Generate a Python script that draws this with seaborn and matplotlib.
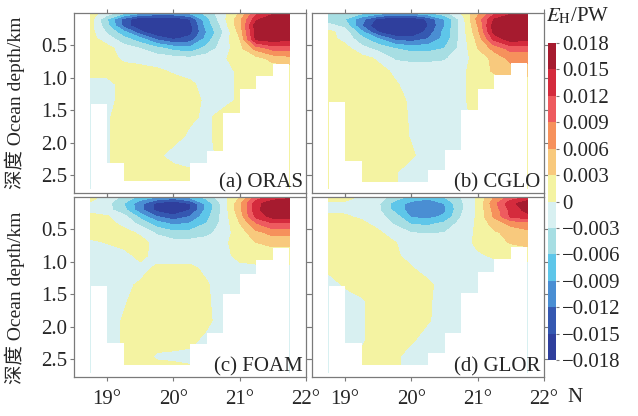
import numpy as np
import matplotlib
matplotlib.use("Agg")
import matplotlib.pyplot as plt
import seaborn as sns
from matplotlib.colors import ListedColormap, BoundaryNorm
from matplotlib.cm import ScalarMappable

sns.set_theme(style="ticks")
plt.rcParams["font.family"] = ["Liberation Serif", "Noto Sans CJK SC"]
plt.rcParams["mathtext.fontset"] = "stix"

# ---------------- data ----------------
lat = [18.75, 19.0, 19.25, 19.5, 19.75, 20.0, 20.25, 20.5, 20.75, 21.0, 21.25, 21.5, 21.75]
depth = [0.0, 0.1, 0.2, 0.3, 0.4, 0.55, 0.7, 0.9, 1.1, 1.35, 1.6, 1.9, 2.2, 2.45, 2.7]
cell_edges = [18.75, 19.0, 19.25, 19.5, 19.75, 20.0, 20.25, 20.5, 20.75, 21.0, 21.25, 21.5, 21.75]

# E_H in 1e-3 PW (rows = depth, columns = latitude)
eh_oras = [
    [1, -1, -5, -8, -9, -9, -8, -5, -1, 3, 11, 14, 14],
    [1, -6, -13, -18, -20, -19, -15, -7, -1, 5, 14, 19, 19],
    [1, -5, -13, -19, -21, -20, -16, -8, -2, 5, 17, 21, 20],
    [1, -3.5, -8, -14, -19, -19, -16, -9, -3, 4, 16, 20, 19],
    [1, -1.5, -5, -8, -13, -15.5, -14, -8, -2, 3, 16, 17, 16],
    [1, 1, -1.5, -3, -5, -7, -8, -5, -1.5, 2, 7, 10, 10],
    [1, 1, -0.5, -1, -1.5, -2, -2.5, -1.5, -0.3, 1, 2, 4, 5],
    [1, 1, 1, 1, 0.5, -0.3, -1, -1, -1, 0.5, 1, 1, 1],
    [-1, -1, 1, 1, 1, 1, 0.5, -1, -1, 0.5, 1, 1, 1],
    [-1, -1, 1, 1, 1, 1, 1, -0.5, -1, 0.5, 1, 1, 1],
    [-1, -0.3, 1, 1, 1, 1, 0.5, -0.5, 1, 1, 1, 1, 1],
    [-1, -0.3, 1, 1, 1, 1, -0.5, -0.5, 1, 1, 1, 1, 1],
    [-1, -0.3, 1, 1, 0.5, -1, -1, -1, 1, 1, 1, 1, 1],
    [-1, -0.3, 1, 1, 1, 1, 0.3, -1, 1, 1, 1, 1, 1],
    [-1, -0.3, 1, 1, 1, 1, 0.3, -1, 1, 1, 1, 1, 1],
]
eh_cglo = [
    [-3, -4, -5, -7, -8, -8, -6, -4, 0, 5, 11, 14, 14],
    [-5, -6, -11, -16, -19, -18, -14.5, -9, -2, 7, 15, 19, 19],
    [-2, -4, -12, -18, -21, -20, -15, -9, -2, 6, 17, 21, 20],
    [1, -1.5, -8, -15, -19, -18, -14, -8, -2, 5, 16, 20, 19],
    [1, -1, -5, -9, -13, -14, -12, -8, -2, 4, 13, 17, 16],
    [1, 1, -2, -4, -6, -7, -7, -6, -2, 3, 7, 10, 10],
    [1, 1, 1, -0.5, -3.5, -4, -4, -3.5, -1, 1, 4, 7, 7],
    [1, 1, 1, 1, -0.5, -1, -1, -1, -0.5, 1, 3.5, 4.5, 4.5],
    [1, 1, 1, 1, 0.3, -1, -1, -1, -0.5, 1, 1, 1, 1],
    [1, 1, 1, 1, 1, -0.5, -1, -1, -0.5, 1, 1, 1, 1],
    [1, 1, 1, 1, 1, -0.3, -1, -1, -1, 1, 1, 1, 1],
    [1, 1, 1, 1, 1, -0.2, -1, -1, -1, 1, 1, 1, 1],
    [1, 1, 1, 1, 1, 0.3, -1, -1, -1, 1, 1, 1, 1],
    [1, 1, 1, 1, 0.2, -1, -1, -1, -1, 1, 1, 1, 1],
    [1, 1, 1, 1, 0.2, -1, -1, -1, -1, 1, 1, 1, 1],
]
eh_foam = [
    [1, -1, -4, -7, -9, -10, -8, -5, -1, 3, 10, 13, 14],
    [-0.5, -2, -6, -11, -16, -18, -15, -8, -2, 5, 14, 17, 18],
    [-0.5, -2, -5, -11, -16, -18, -15, -8, -2, 5, 14, 18, 18],
    [0.5, 0.3, -2, -7, -12, -14, -12, -7, -2, 4, 13, 16, 16],
    [1, 1, -1, -4, -8, -10, -9, -6, -2, 3, 9, 12, 12],
    [1, 1, 1, -0.5, -3.5, -5, -5, -4, -1.5, 1.5, 5, 7, 7],
    [-0.5, 0.1, 1, 1, -1, -2, -2, -1.5, -0.5, 1, 3, 4, 4],
    [-1, -1, -1, 0.8, -1, -1, -1, -1, -0.5, 0.5, 1, 1, 1],
    [-1, -1, -1, -0.8, 0.5, 0.5, 0.5, -0.5, -1, -0.5, -0.5, -0.5, -0.5],
    [-1, -1, -0.5, 0.3, 1, 1, 1, 0.2, -1, -1, -1, -1, -1],
    [-1, -1, -0.3, 1, 1, 1, 1, 0.3, -1, -1, -1, -1, -1],
    [-1, -1, 0.2, 1, 1, 1, 1, 0.5, -1, -1, -1, -1, -1],
    [-1, -1, 0.2, 1, 1, 1, 0.5, -0.5, -1, -1, -1, -1, -1],
    [-1, -1, 0.3, 1, -0.3, -0.5, -0.5, -1, -1, -1, -1, -1, -1],
    [-1, -1, 0.5, 1, 1, 1, 0.5, -1, -1, -1, -1, -1, -1],
]
eh_glor = [
    [1, 1, -0.5, -2, -4, -7, -8, -6, -3, 0.5, 6, 10, 12],
    [-0.5, -0.5, -1, -2.5, -7.5, -10, -11, -9, -3.5, 0.5, 8, 14, 17],
    [-0.5, -0.5, -1, -2.5, -7, -10.5, -12.1, -9.5, -3.5, 0.5, 7, 13, 16],
    [0.5, 0.3, -0.5, -2, -4.5, -9.5, -10, -8.5, -3, 0.5, 6.5, 12.5, 14],
    [1, 1, 0.5, -1, -3.5, -6.5, -7, -5.5, -2, 0.5, 4.5, 7, 8],
    [1, 1, 1, 0.5, -1.5, -3, -3.2, -3, -1.5, 0.5, 2.5, 4, 5],
    [1, 1, 1, 1, 0.1, -1, -1, -1, -1, 0.5, 2, 3.2, 4],
    [1, 1, 1, 1, 0.5, -1, -1, -1, -1, -0.3, 0.3, 1, 1],
    [0.5, 1, 1, 1, 1, 0.2, -1, -1, -1, -1, -1, -1, -1],
    [-1, 0.3, 1, 1, 1, 1, 0.5, -1, -1, -1, -1, -1, -1],
    [-1, -1, -0.3, 1, 1, 1, 0.3, -1, -1, -1, -1, -1, -1],
    [-1, -1, -0.3, 1, 1, 1, 0.2, -1, -1, -1, -1, -1, -1],
    [-1, -1, -0.3, 1, 1, 0.3, -1, -1, -1, -1, -1, -1, -1],
    [-1, -1, 0.3, 1, 0.5, -1, -1, -1, -1, -1, -1, -1, -1],
    [-1, -1, 0.3, 1, 0.5, -1, -1, -1, -1, -1, -1, -1, -1],
]

# bottom depth (km) of each 0.25-degree column
bottom_oras = [1.41, 2.31, 2.59, 2.59, 2.59, 2.59, 2.31, 2.13, 1.54, 1.18, 0.97, 0.79]
bottom_cglo = [1.38, 2.28, 2.60, 2.60, 2.60, 2.60, 2.42, 2.12, 1.50, 1.17, 0.96, 0.77]
bottom_foam = [1.37, 2.24, 2.58, 2.58, 2.58, 2.58, 2.26, 2.10, 1.50, 1.18, 0.97, 0.79]
bottom_glor = [1.37, 2.24, 2.58, 2.58, 2.58, 2.58, 2.40, 2.10, 1.48, 1.16, 0.96, 0.77]

panel_names = ["(a) ORAS", "(b) CGLO", "(c) FOAM", "(d) GLOR"]
levels = [-0.018, -0.015, -0.012, -0.009, -0.006, -0.003, 0.0,
          0.003, 0.006, 0.009, 0.012, 0.015, 0.018]
level_labels = ["\u22120.018", "\u22120.015", "\u22120.012", "\u22120.009", "\u22120.006",
                "\u22120.003", "0", "0.003", "0.006", "0.009", "0.012", "0.015", "0.018"]
xticks = [19, 20, 21, 22]
xtick_labels = ["19°", "20°", "21°", "22°"]
yticks = [0.5, 1.0, 1.5, 2.0, 2.5]
ytick_labels = ["0.5", "1.0", "1.5", "2.0", "2.5"]

band_colors = ["#2f3f9d", "#3558b1", "#4a8ed3", "#5ec6e9", "#a7dee3", "#d8f0f1",
               "#f4f3a2", "#f8c97d", "#f6915c", "#ee5b5f", "#d42b3d", "#a61b2f"]

palette = sns.color_palette(band_colors)
cmap = ListedColormap(palette)
norm = BoundaryNorm(levels, cmap.N)

fields = [eh_oras, eh_cglo, eh_foam, eh_glor]
bottoms = [bottom_oras, bottom_cglo, bottom_foam, bottom_glor]

W, H = 638, 416
fig = plt.figure(figsize=(W / 100, H / 100), dpi=100)

def fx(px):
    return px / W

def fy(py):
    return 1 - py / H

pw, ph = 232, 180
positions = [(74, 192.7), (312, 192.7), (74, 377), (312, 377)]
grey = "#7a7a7a"
fs = 15

for i, (field, bot, name) in enumerate(zip(fields, bottoms, panel_names)):
    x0, yb = positions[i]
    ax = fig.add_axes([fx(x0), fy(yb), pw / W, ph / H])
    Z = np.clip(np.array(field, dtype=float) * 1e-3, -0.01799, 0.01799)
    ax.contourf(lat, depth, Z, levels=levels, cmap=cmap, norm=norm, zorder=1)
    ybot = list(bot) + [bot[-1]]
    ax.fill_between(cell_edges, ybot, 3.0, step="post", color="white", lw=0, zorder=2)
    ax.set_xlim(18.5, 22)
    ax.set_ylim(2.77, 0)
    ax.set_xticks(xticks)
    ax.set_yticks(yticks)
    ax.tick_params(which="both", direction="out", length=3, width=0.8, color=grey,
                   top=True, right=True, labelsize=fs)
    ax.tick_params(axis="y", pad=2)
    ax.tick_params(axis="x", pad=6)
    for s in ax.spines.values():
        s.set_color(grey)
        s.set_linewidth(0.9)
    if i in (0, 2):
        ax.set_yticklabels(ytick_labels)
        ax.set_ylabel("深度 Ocean depth/km", fontsize=14)
        ax.yaxis.set_label_coords(-0.21, 0.5 if i == 0 else 0.44)
    else:
        ax.set_yticklabels([])
    if i in (2, 3):
        ax.set_xticklabels(xtick_labels)
    else:
        ax.set_xticklabels([])
    ax.text(0.985, 0.03, name, transform=ax.transAxes, ha="right", va="baseline",
            fontsize=fs, zorder=5)

fig.text(fx(567), fy(397), "N", ha="left", va="center", fontsize=fs)

cax = fig.add_axes([fx(548), fy(360), 8 / W, 317 / H])
cb = fig.colorbar(ScalarMappable(norm=norm, cmap=cmap), cax=cax, ticks=levels)
cb.ax.set_yticklabels(level_labels)
cb.outline.set_visible(False)
cb.ax.tick_params(length=2.5, width=0.8, color=grey, labelsize=fs, pad=2)
fig.text(fx(546), fy(16), r"$E_{\mathrm{H}}$/PW", ha="left", va="center", fontsize=fs)

fig.savefig("out.png", dpi=100)
